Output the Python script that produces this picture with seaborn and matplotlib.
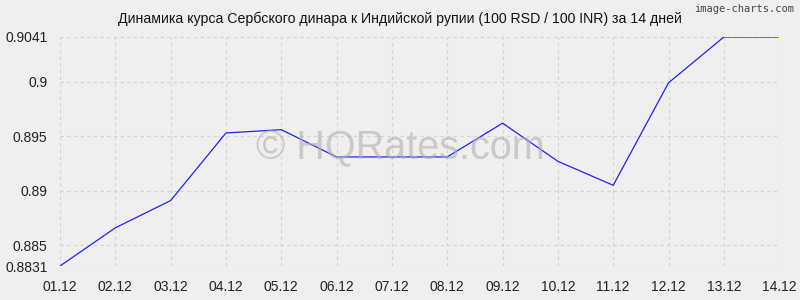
import matplotlib
matplotlib.use("Agg")
import matplotlib.pyplot as plt
import seaborn as sns
import pandas as pd

dates = ["01.12", "02.12", "03.12", "04.12", "05.12", "06.12", "07.12",
         "08.12", "09.12", "10.12", "11.12", "12.12", "13.12", "14.12"]
rates = [0.8831, 0.8866, 0.8891, 0.8953, 0.8956, 0.8931, 0.8931,
         0.8931, 0.8962, 0.8927, 0.8905, 0.8999, 0.9041, 0.9041]
y_ticks = [0.8831, 0.885, 0.89, 0.895, 0.9, 0.9041]
y_tick_labels = ["0.8831", "0.885", "0.89", "0.895", "0.9", "0.9041"]
title = "Динамика курса Сербского динара к Индийской рупии (100 RSD / 100 INR) за 14 дней"

sns.set_theme(style="whitegrid")
plt.rcParams['font.family'] = ['Liberation Sans', 'DejaVu Sans']

bg = "#efefef"
fig = plt.figure(figsize=(8, 3), dpi=100, facecolor=bg)
ax = fig.add_axes([0.075, 0.1133, 0.899, 0.7634])
ax.set_facecolor(bg)

df = pd.DataFrame({"idx": list(range(len(dates))), "rate": rates})
sns.lineplot(data=df, x="idx", y="rate", ax=ax, color="#2020ff", linewidth=0.9)

ax.set_xlim(0, len(dates) - 1)
ax.set_ylim(y_ticks[0], y_ticks[-1])
ax.set_xticks(range(len(dates)))
ax.set_xticklabels(dates)
ax.set_yticks(y_ticks)
ax.set_yticklabels(y_tick_labels)
ax.set_xlabel("")
ax.set_ylabel("")

ax.grid(True, color="#d2d2d2", linestyle=(0, (3, 3)), linewidth=0.8)
for s in ax.spines.values():
    s.set_visible(False)
ax.tick_params(axis="both", labelsize=10, colors="#222222", length=4,
               width=0.8, color="#aaaaaa")
ax.tick_params(axis="y", pad=5)
ax.tick_params(axis="x", pad=6)

fig.text(0.5, 0.937, title, ha="center", va="center", fontsize=10.2, color="#111111")
fig.text(0.993, 0.985, "image-charts.com", ha="right", va="top", fontsize=7.5,
         color="#444444", family=['DejaVu Sans Mono', 'DejaVu Sans'])
fig.text(0.5, 0.507, "© HQRates.com", ha="center", va="center", fontsize=28.5,
         color="#b0b0b0", alpha=0.6, zorder=0)

fig.savefig("out.png", dpi=100, facecolor=bg)
